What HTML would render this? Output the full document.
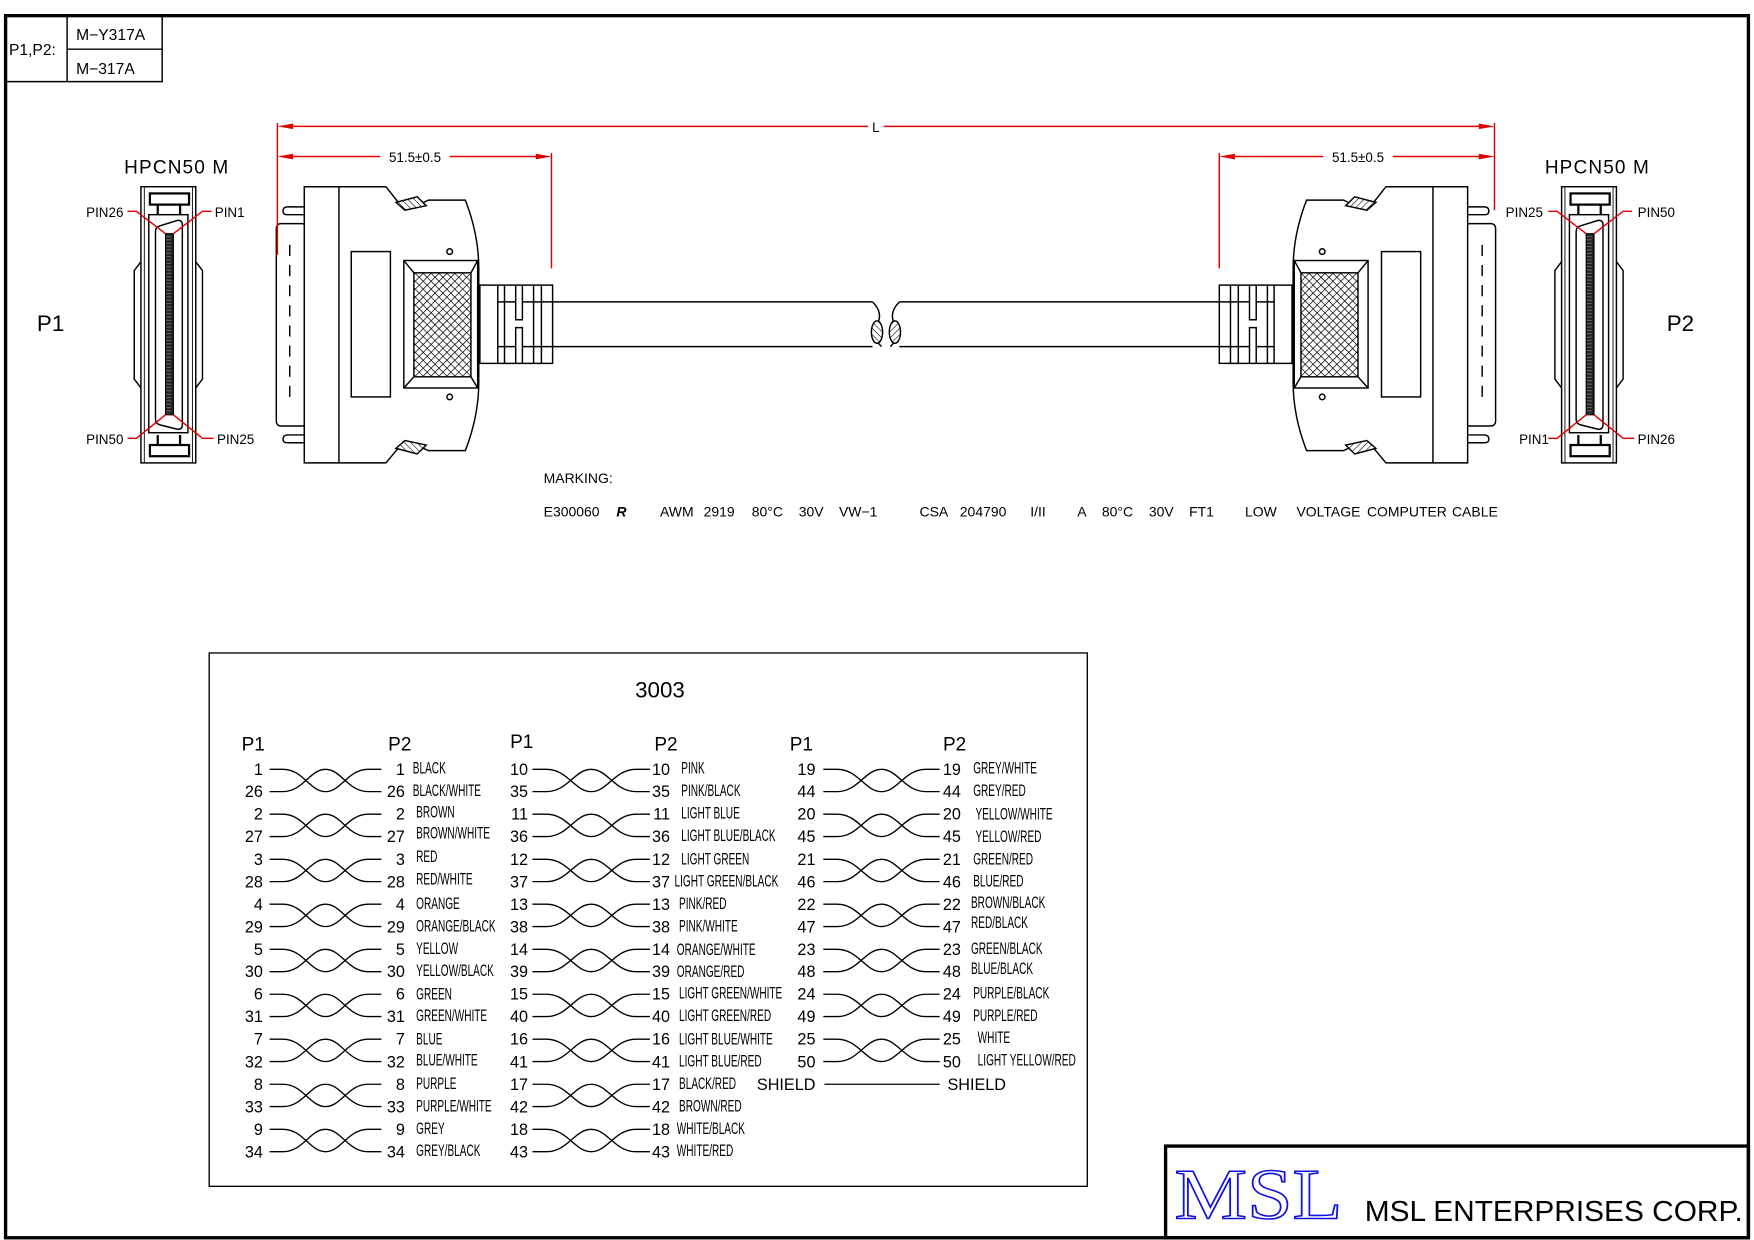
<!DOCTYPE html>
<html><head><meta charset="utf-8"><style>
html,body{margin:0;padding:0;background:#fff;}
svg{display:block;}
text{font-family:"Liberation Sans",sans-serif;fill:#000;}
.n{font-size:14.5px;}
.ne{font-size:14.5px;text-anchor:end;}
.c{font-size:15px;}
.h{font-size:17px;}
.m{font-size:12.5px;}
.p{font-size:12px;}
.r{stroke:#e00000;stroke-width:1.3;fill:none;}
</style></head><body>
<svg width="1754" height="1240" viewBox="0 0 1568 1109" preserveAspectRatio="none" xmlns="http://www.w3.org/2000/svg">
<defs>
<pattern id="hx" width="5" height="5" patternUnits="userSpaceOnUse" patternTransform="rotate(45)">
<rect width="5" height="5" fill="#fff"/><path d="M0,0H5M0,0V5" stroke="#000" stroke-width="1.3"/></pattern>
<pattern id="hd" width="4" height="4" patternUnits="userSpaceOnUse" patternTransform="rotate(45)">
<rect width="4" height="4" fill="#fff"/><path d="M0,0H4" stroke="#000" stroke-width="1"/></pattern>
<pattern id="pins" width="7" height="3" patternUnits="userSpaceOnUse">
<rect width="7" height="3" fill="#222"/><path d="M1,1.5H6" stroke="#777" stroke-width="0.8"/></pattern>
<g id="tw" fill="none" stroke="#000" stroke-width="1.2"><path d="M0,0H12C30,0 36,20 50,20C64,20 70,0 88,0H100"/><path d="M0,20H12C30,20 36,0 50,0C64,0 70,20 88,20H100"/></g>
<g id="conn" stroke="#000" stroke-width="1.3" fill="#fff">
<rect x="247" y="200" width="27" height="181" rx="4"/>
<line x1="259" y1="219" x2="259" y2="362" stroke-dasharray="10,8"/>
<path d="M274,185H257Q253,185 253,189Q253,192 257,192H274Z"/>
<path d="M274,389H257Q253,389 253,393Q253,396 257,396H274Z"/>
<path d="M272,167H345L360,186H368L383,179H416Q428,210 428,240V342Q428,372 416,403H383L368,396H360L345,414H272Z"/>
<line x1="303" y1="167" x2="303" y2="414"/>
<path d="M354,181L373,176L381,184L362,188Z" fill="url(#hd)"/>
<path d="M354,401L373,406L381,398L362,394Z" fill="url(#hd)"/>
<rect x="314" y="225" width="35" height="130"/>
<circle cx="402" cy="225" r="2.5"/><circle cx="402" cy="355" r="2.5"/>
<rect x="361" y="233" width="66" height="114"/>
<rect x="370" y="244" width="51" height="93" fill="url(#hx)"/>
<path d="M361,233L370,244M427,233L421,244M361,347L370,337M427,347L421,337" fill="none"/>
<rect x="429" y="255" width="65" height="70"/>
<path d="M445,255V325M451,255V325M477,255V325M484,255V325M461,255V286H467V255M461,325V293H467V325M445,270H461M467,270H494M445,310H461M467,310H494" fill="none"/>
<path d="M494,270H780M494,310H780" fill="none"/>
<path d="M780,270Q790,280 784,290Q778,300 788,310" fill="none"/>
<ellipse cx="784" cy="297" rx="5" ry="10" fill="url(#hd)"/>
</g>
<g id="pv" stroke="#000" stroke-width="1.3" fill="#fff">
<path d="M126,234L120,242V339L126,347M175,234L181,242V339L175,347" fill="none"/>
<rect x="126" y="167" width="49" height="247"/>
<path d="M129,167V414M172,167V414" fill="none" stroke-width="0.8"/>
<rect x="133" y="192" width="35" height="195"/>
<rect x="134" y="173" width="35" height="10" stroke-width="2"/>
<rect x="134" y="398" width="35" height="10" stroke-width="2"/>
<path d="M141,183V192M161,183V192M141,389V398M161,389V398" fill="none" stroke-width="2"/>
<path d="M139,207Q139,203 143,202L159,197Q163,197 163,201V380Q163,384 159,384L143,380Q139,379 139,375Z"/>
<rect x="148" y="209" width="7" height="162" fill="url(#pins)" stroke-width="1"/>
</g>
</defs>

<rect x="5" y="14" width="1558" height="1093" fill="none" stroke="#000" stroke-width="3"/>
<path d="M5,73H145V14M60,14V73M60,44H145" fill="none" stroke="#000" stroke-width="1.3"/>
<text x="8" y="49" class="n" style="font-size:14px">P1,P2:</text>
<text x="68" y="36" class="n" style="font-size:14px">M−Y317A</text>
<text x="68" y="66" class="n" style="font-size:14px">M−317A</text>

<use href="#conn"/>
<use href="#conn" transform="translate(1584,0) scale(-1,1)"/>
<use href="#pv"/>
<use href="#pv" transform="translate(1270,0)"/>

<text x="111" y="155" class="h" textLength="93" lengthAdjust="spacing">HPCN50  M</text>
<text x="33" y="296" style="font-size:20px">P1</text>
<text x="77" y="194" class="p">PIN26</text>
<text x="192" y="194" class="p">PIN1</text>
<text x="77" y="397" class="p">PIN50</text>
<text x="194" y="397" class="p">PIN25</text>
<path class="r" d="M114,189H122L148,209M189,189H181L155,209M114,392H122L148,371M191,392H181L155,371"/>
<text x="1381" y="155" class="h" textLength="93" lengthAdjust="spacing">HPCN50  M</text>
<text x="1490" y="296" style="font-size:20px">P2</text>
<text x="1346" y="194" class="p">PIN25</text>
<text x="1464" y="194" class="p">PIN50</text>
<text x="1358" y="397" class="p">PIN1</text>
<text x="1464" y="397" class="p">PIN26</text>
<path class="r" d="M1384,189H1392L1418,209M1459,189H1451L1425,209M1384,392H1392L1418,371M1461,392H1451L1425,371"/>

<path class="r" d="M248,110V228M493,137V240M1090,137V240M1336,110V188"/>
<path class="r" d="M260,113H776M790,113H1324"/>
<path class="r" d="M260,140H340M402,140H481"/>
<path class="r" d="M1102,140H1183M1245,140H1324"/>
<g fill="#e00000">
<path d="M248,113L262,110.5V115.5Z"/><path d="M1336,113L1322,110.5V115.5Z"/>
<path d="M248,140L262,137.5V142.5Z"/><path d="M493,140L479,137.5V142.5Z"/>
<path d="M1090,140L1104,137.5V142.5Z"/><path d="M1336,140L1322,137.5V142.5Z"/>
</g>
<text x="783" y="118" class="p" text-anchor="middle">L</text>
<text x="371" y="145" class="p" text-anchor="middle">51.5±0.5</text>
<text x="1214" y="145" class="p" text-anchor="middle">51.5±0.5</text>

<g class="m">
<text x="486" y="432" class="m">MARKING:</text>
<text x="486" y="462" class="m">E300060</text>
<text x="551" y="462" class="m" style="font-style:italic;font-weight:bold">R</text>
<text x="590" y="462" class="m">AWM</text>
<text x="629" y="462" class="m">2919</text>
<text x="672" y="462" class="m">80°C</text>
<text x="714" y="462" class="m">30V</text>
<text x="750" y="462" class="m">VW−1</text>
<text x="822" y="462" class="m">CSA</text>
<text x="858" y="462" class="m">204790</text>
<text x="921" y="462" class="m">I/II</text>
<text x="963" y="462" class="m">A</text>
<text x="985" y="462" class="m">80°C</text>
<text x="1027" y="462" class="m">30V</text>
<text x="1063" y="462" class="m">FT1</text>
<text x="1113" y="462" class="m">LOW</text>
<text x="1159" y="462" class="m">VOLTAGE</text>
<text x="1222" y="462" class="m">COMPUTER</text>
<text x="1298" y="462" class="m">CABLE</text>
</g>

<rect x="187" y="584" width="785" height="477" fill="none" stroke="#000" stroke-width="1.2"/>
<text x="590" y="624" text-anchor="middle" style="font-size:20px">3003</text>
<text x="216" y="671" class="h">P1</text><text x="347" y="671" class="h">P2</text>
<text x="456" y="669" class="h">P1</text><text x="585" y="671" class="h">P2</text>
<text x="706" y="671" class="h">P1</text><text x="843" y="671" class="h">P2</text>

<use href="#tw" transform="translate(241,688)"/><use href="#tw" transform="translate(241,728.2)"/><use href="#tw" transform="translate(241,768.5)"/><use href="#tw" transform="translate(241,808.7)"/><use href="#tw" transform="translate(241,849)"/><use href="#tw" transform="translate(241,889.2)"/><use href="#tw" transform="translate(241,929.4)"/><use href="#tw" transform="translate(241,969.7)"/><use href="#tw" transform="translate(241,1010)"/>
<use href="#tw" transform="translate(476,688) scale(1.05,1)"/><use href="#tw" transform="translate(476,728.2) scale(1.05,1)"/><use href="#tw" transform="translate(476,768.5) scale(1.05,1)"/><use href="#tw" transform="translate(476,808.7) scale(1.05,1)"/><use href="#tw" transform="translate(476,849) scale(1.05,1)"/><use href="#tw" transform="translate(476,889.2) scale(1.05,1)"/><use href="#tw" transform="translate(476,929.4) scale(1.05,1)"/><use href="#tw" transform="translate(476,969.7) scale(1.05,1)"/><use href="#tw" transform="translate(476,1010) scale(1.05,1)"/>
<use href="#tw" transform="translate(736,688) scale(1.04,1)"/><use href="#tw" transform="translate(736,728.2) scale(1.04,1)"/><use href="#tw" transform="translate(736,768.5) scale(1.04,1)"/><use href="#tw" transform="translate(736,808.7) scale(1.04,1)"/><use href="#tw" transform="translate(736,849) scale(1.04,1)"/><use href="#tw" transform="translate(736,889.2) scale(1.04,1)"/><use href="#tw" transform="translate(736,929.4) scale(1.04,1)"/>
<line x1="737" y1="969.7" x2="840" y2="969.7" stroke="#000" stroke-width="1.2"/>

<g class="ne">
<text x="235" y="693">1</text><text x="235" y="713">26</text><text x="235" y="733">2</text><text x="235" y="753">27</text><text x="235" y="773.5">3</text><text x="235" y="793.6">28</text><text x="235" y="813.7">4</text><text x="235" y="833.8">29</text><text x="235" y="854">5</text><text x="235" y="874">30</text><text x="235" y="894">6</text><text x="235" y="914">31</text><text x="235" y="934">7</text><text x="235" y="954.6">32</text><text x="235" y="974.7">8</text><text x="235" y="994.8">33</text><text x="235" y="1015">9</text><text x="235" y="1035">34</text>
<text x="362" y="693">1</text><text x="362" y="713">26</text><text x="362" y="733">2</text><text x="362" y="753">27</text><text x="362" y="773.5">3</text><text x="362" y="793.6">28</text><text x="362" y="813.7">4</text><text x="362" y="833.8">29</text><text x="362" y="854">5</text><text x="362" y="874">30</text><text x="362" y="894">6</text><text x="362" y="914">31</text><text x="362" y="934">7</text><text x="362" y="954.6">32</text><text x="362" y="974.7">8</text><text x="362" y="994.8">33</text><text x="362" y="1015">9</text><text x="362" y="1035">34</text>
<text x="472" y="693">10</text><text x="472" y="713">35</text><text x="472" y="733">11</text><text x="472" y="753">36</text><text x="472" y="773.5">12</text><text x="472" y="793.6">37</text><text x="472" y="813.7">13</text><text x="472" y="833.8">38</text><text x="472" y="854">14</text><text x="472" y="874">39</text><text x="472" y="894">15</text><text x="472" y="914">40</text><text x="472" y="934">16</text><text x="472" y="954.6">41</text><text x="472" y="974.7">17</text><text x="472" y="994.8">42</text><text x="472" y="1015">18</text><text x="472" y="1035">43</text>
<text x="599" y="693">10</text><text x="599" y="713">35</text><text x="599" y="733">11</text><text x="599" y="753">36</text><text x="599" y="773.5">12</text><text x="599" y="793.6">37</text><text x="599" y="813.7">13</text><text x="599" y="833.8">38</text><text x="599" y="854">14</text><text x="599" y="874">39</text><text x="599" y="894">15</text><text x="599" y="914">40</text><text x="599" y="934">16</text><text x="599" y="954.6">41</text><text x="599" y="974.7">17</text><text x="599" y="994.8">42</text><text x="599" y="1015">18</text><text x="599" y="1035">43</text>
<text x="729" y="693">19</text><text x="729" y="713">44</text><text x="729" y="733">20</text><text x="729" y="753">45</text><text x="729" y="773.5">21</text><text x="729" y="793.6">46</text><text x="729" y="813.7">22</text><text x="729" y="833.8">47</text><text x="729" y="854">23</text><text x="729" y="874">48</text><text x="729" y="894">24</text><text x="729" y="914">49</text><text x="729" y="934">25</text><text x="729" y="954.6">50</text><text x="729" y="974.7">SHIELD</text>
<text x="859" y="693">19</text><text x="859" y="713">44</text><text x="859" y="733">20</text><text x="859" y="753">45</text><text x="859" y="773.5">21</text><text x="859" y="793.6">46</text><text x="859" y="813.7">22</text><text x="859" y="833.8">47</text><text x="859" y="854">23</text><text x="859" y="874">48</text><text x="859" y="894">24</text><text x="859" y="914">49</text><text x="859" y="934">25</text><text x="859" y="954.6">50</text>
</g>
<text x="847" y="974.7" class="n">SHIELD</text>

<g class="c">
<text transform="translate(369,692) scale(.6,1)">BLACK</text>
<text transform="translate(369,712) scale(.6,1)">BLACK/WHITE</text>
<text transform="translate(372,731) scale(.6,1)">BROWN</text>
<text transform="translate(372,750) scale(.6,1)">BROWN/WHITE</text>
<text transform="translate(372,771) scale(.6,1)">RED</text>
<text transform="translate(372,791) scale(.6,1)">RED/WHITE</text>
<text transform="translate(372,813) scale(.6,1)">ORANGE</text>
<text transform="translate(372,833) scale(.6,1)">ORANGE/BLACK</text>
<text transform="translate(372,853) scale(.6,1)">YELLOW</text>
<text transform="translate(372,873) scale(.6,1)">YELLOW/BLACK</text>
<text transform="translate(372,894) scale(.6,1)">GREEN</text>
<text transform="translate(372,913) scale(.6,1)">GREEN/WHITE</text>
<text transform="translate(372,934) scale(.6,1)">BLUE</text>
<text transform="translate(372,953) scale(.6,1)">BLUE/WHITE</text>
<text transform="translate(372,974) scale(.6,1)">PURPLE</text>
<text transform="translate(372,994) scale(.6,1)">PURPLE/WHITE</text>
<text transform="translate(372,1014) scale(.6,1)">GREY</text>
<text transform="translate(372,1034) scale(.6,1)">GREY/BLACK</text>

<text transform="translate(609,692) scale(.6,1)">PINK</text>
<text transform="translate(609,712) scale(.6,1)">PINK/BLACK</text>
<text transform="translate(609,732) scale(.6,1)">LIGHT BLUE</text>
<text transform="translate(609,752) scale(.6,1)">LIGHT BLUE/BLACK</text>
<text transform="translate(609,773) scale(.6,1)">LIGHT GREEN</text>
<text transform="translate(603,793) scale(.6,1)">LIGHT GREEN/BLACK</text>
<text transform="translate(607,813) scale(.6,1)">PINK/RED</text>
<text transform="translate(607,833) scale(.6,1)">PINK/WHITE</text>
<text transform="translate(605,854) scale(.6,1)">ORANGE/WHITE</text>
<text transform="translate(605,874) scale(.6,1)">ORANGE/RED</text>
<text transform="translate(607,893) scale(.6,1)">LIGHT GREEN/WHITE</text>
<text transform="translate(607,913) scale(.6,1)">LIGHT GREEN/RED</text>
<text transform="translate(607,934) scale(.6,1)">LIGHT BLUE/WHITE</text>
<text transform="translate(607,954) scale(.6,1)">LIGHT BLUE/RED</text>
<text transform="translate(607,974) scale(.6,1)">BLACK/RED</text>
<text transform="translate(607,994) scale(.6,1)">BROWN/RED</text>
<text transform="translate(605,1014) scale(.6,1)">WHITE/BLACK</text>
<text transform="translate(605,1034) scale(.6,1)">WHITE/RED</text>

<text transform="translate(870,692) scale(.6,1)">GREY/WHITE</text>
<text transform="translate(870,712) scale(.6,1)">GREY/RED</text>
<text transform="translate(872,733) scale(.6,1)">YELLOW/WHITE</text>
<text transform="translate(872,753) scale(.6,1)">YELLOW/RED</text>
<text transform="translate(870,773) scale(.6,1)">GREEN/RED</text>
<text transform="translate(870,793) scale(.6,1)">BLUE/RED</text>
<text transform="translate(868,812) scale(.6,1)">BROWN/BLACK</text>
<text transform="translate(868,830) scale(.6,1)">RED/BLACK</text>
<text transform="translate(868,853) scale(.6,1)">GREEN/BLACK</text>
<text transform="translate(868,871) scale(.6,1)">BLUE/BLACK</text>
<text transform="translate(870,893) scale(.6,1)">PURPLE/BLACK</text>
<text transform="translate(870,913) scale(.6,1)">PURPLE/RED</text>
<text transform="translate(874,933) scale(.6,1)">WHITE</text>
<text transform="translate(874,953) scale(.6,1)">LIGHT YELLOW/RED</text>
</g>

<rect x="1042" y="1025" width="521" height="82" fill="none" stroke="#000" stroke-width="3"/>
<text x="1050" y="1090" style="font-family:'Liberation Serif',serif;font-size:64px;fill:#fff;stroke:#1010e0;stroke-width:1.4" textLength="150" lengthAdjust="spacingAndGlyphs">MSL</text>
<text x="1220" y="1092" style="font-size:26px" textLength="338" lengthAdjust="spacingAndGlyphs">MSL  ENTERPRISES  CORP.</text>
</svg>
</body></html>
